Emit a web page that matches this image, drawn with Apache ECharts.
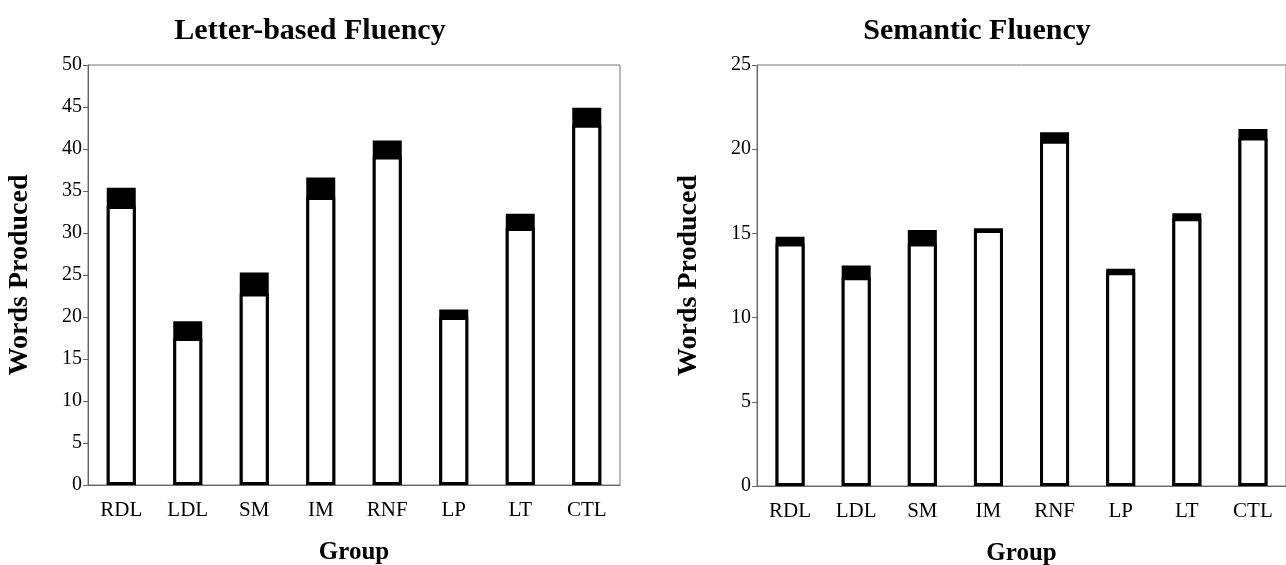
<!DOCTYPE html>
<html>
<head>
<meta charset="utf-8">
<script src="https://cdn.jsdelivr.net/npm/echarts@6/dist/echarts.min.js"></script>
<style>
html,body{margin:0;padding:0;background:#fff;}
#chart{width:1286px;height:565px;}
</style>
</head>
<body>
<div id="chart"></div>
<script>
const categories = ['RDL', 'LDL', 'SM', 'IM', 'RNF', 'LP', 'LT', 'CTL'];
const letterMeans = [33.2, 17.5, 22.8, 34.3, 39.1, 20.0, 30.6, 42.9];
const letterExtra = [2.2, 2.0, 2.5, 2.3, 1.9, 0.9, 1.7, 2.0];
const semanticMeans = [14.4, 12.4, 14.4, 15.2, 20.5, 12.7, 15.9, 20.7];
const semanticExtra = [0.4, 0.7, 0.8, 0.1, 0.5, 0.2, 0.3, 0.5];
const titles = ['Letter-based Fluency', 'Semantic Fluency'];
const yTitle = 'Words Produced';
const xTitle = 'Group';

const FONT = '"Liberation Serif", "Times New Roman", serif';
const chart = echarts.init(document.getElementById('chart'));

function xAxis(idx) {
  return {
    type: 'category', gridIndex: idx, data: categories,
    axisLine: { show: true, lineStyle: { color: '#666', width: 1 } },
    axisTick: { show: false },
    axisLabel: { color: '#000', fontFamily: FONT, fontSize: 21, margin: 15 },
    name: xTitle, nameLocation: 'middle', nameGap: 55,
    nameTextStyle: { color: '#000', fontFamily: FONT, fontSize: 25, fontWeight: 'bold' }
  };
}
function yAxis(idx, max, interval) {
  return {
    type: 'value', gridIndex: idx, min: 0, max: max, interval: interval,
    axisLine: { show: true, lineStyle: { color: '#666', width: 1 } },
    axisTick: { show: true, inside: false, length: 5, lineStyle: { color: '#666' } },
    splitLine: { show: false },
    axisLabel: { color: '#000', fontFamily: FONT, fontSize: 20, margin: 6 },
    name: yTitle, nameLocation: 'middle', nameGap: 54, nameRotate: 90,
    nameTextStyle: { color: '#000', fontFamily: FONT, fontSize: 28, fontWeight: 'bold' }
  };
}
function bars(idx, means, extra) {
  const tops = means.map((m, i) => +(m + extra[i]).toFixed(2));
  return [
    {
      type: 'bar', xAxisIndex: idx, yAxisIndex: idx,
      data: tops, barWidth: 29, barGap: '-100%',
      itemStyle: { color: '#000' },
      animation: false, silent: true
    },
    {
      type: 'bar', xAxisIndex: idx, yAxisIndex: idx,
      data: means, barWidth: 29, barGap: '-100%',
      itemStyle: { color: '#fff', borderColor: '#000', borderWidth: 3 },
      animation: false, silent: true
    }
  ];
}

chart.setOption({
  backgroundColor: '#fff',
  animation: false,
  title: [
    { text: titles[0], left: 305, top: 11, textAlign: 'center',
      textStyle: { fontFamily: FONT, fontSize: 30, fontWeight: 'bold', color: '#000' } },
    { text: titles[1], left: 972, top: 11, textAlign: 'center',
      textStyle: { fontFamily: FONT, fontSize: 30, fontWeight: 'bold', color: '#000' } }
  ],
  grid: [
    { left: 88, right: 666, top: 65, bottom: 80, outerBoundsMode: 'none', containLabel: false,
      show: true, borderColor: '#777', borderWidth: 1, backgroundColor: 'transparent' },
    { left: 757, right: 0, top: 65, bottom: 79, outerBoundsMode: 'none', containLabel: false,
      show: true, borderColor: '#777', borderWidth: 1, backgroundColor: 'transparent' }
  ],
  xAxis: [xAxis(0), xAxis(1)],
  yAxis: [yAxis(0, 50, 5), yAxis(1, 25, 5)],
  series: [].concat(bars(0, letterMeans, letterExtra), bars(1, semanticMeans, semanticExtra))
});
</script>
</body>
</html>
